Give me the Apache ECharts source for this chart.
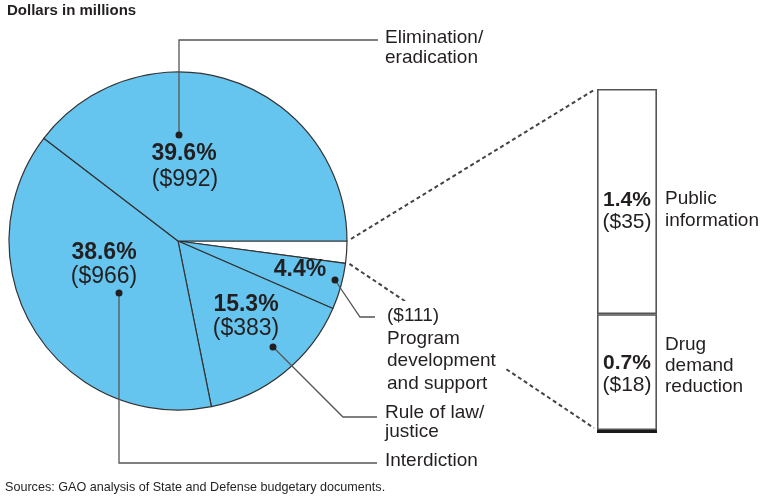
<!DOCTYPE html>
<html>
<head>
<meta charset="utf-8">
<script src="https://cdn.jsdelivr.net/npm/echarts@6/dist/echarts.min.js"></script>
<style>
  html, body { margin: 0; padding: 0; background: #fff; }
  #chart { width: 762px; height: 496px; }
</style>
</head>
<body>
<div id="chart"></div>
<script>
// Counternarcotics funding by activity, dollars in millions
const pieCategories = ['Elimination/eradication', 'Interdiction', 'Rule of law/justice', 'Program development and support'];
const pieValues = [992, 966, 383, 111];
const piePercents = ['39.6%', '38.6%', '15.3%', '4.4%'];

// Breakout of the small remaining slice
const barCategories = ['Public information', 'Drug demand reduction'];
const barValues = [35, 18];
const barPercents = ['1.4%', '0.7%'];

const FONT = '"Liberation Sans", Arial, Helvetica, sans-serif';
const INK = '#231f20';
const BLUE = '#66c5ef';

// pie geometry
const cx = 178, cy = 241, R = 169;
// breakout bar box
const barBox = { left: 597, top: 89, width: 60, height: 341 };

const otherTotal = barValues.reduce((a, b) => a + b, 0);
const total = otherTotal + pieValues.reduce((a, b) => a + b, 0);

// clockwise from 3 o'clock: breakout slice, program, rule of law, interdiction, elimination
const pieData = [
  { name: 'Public information and drug demand reduction', value: otherTotal, itemStyle: { color: '#ffffff' } },
  { name: pieCategories[3], value: pieValues[3], itemStyle: { color: BLUE } },
  { name: pieCategories[2], value: pieValues[2], itemStyle: { color: BLUE } },
  { name: pieCategories[1], value: pieValues[1], itemStyle: { color: BLUE } },
  { name: pieCategories[0], value: pieValues[0], itemStyle: { color: BLUE } }
];

function text(x, y, s, opt) {
  opt = opt || {};
  return {
    type: 'text', x: x, y: y, z: opt.z || 10, silent: true,
    style: Object.assign({
      text: s,
      fill: INK,
      font: (opt.bold ? 'bold ' : '') + (opt.size || 19) + 'px ' + FONT,
      textAlign: opt.align || 'left',
      textVerticalAlign: 'middle'
    }, opt.style || {})
  };
}
function leader(points) {
  return { type: 'polyline', z: 8, silent: true, shape: { points: points },
    style: { stroke: '#555', lineWidth: 1.3, fill: null } };
}
function dot(x, y) {
  return { type: 'circle', z: 9, silent: true, shape: { cx: x, cy: y, r: 3.5 }, style: { fill: INK } };
}
function dashed(p1, p2) {
  return { type: 'line', z: 1, silent: true, shape: { x1: p1[0], y1: p1[1], x2: p2[0], y2: p2[1] },
    style: { stroke: '#444', lineWidth: 2, lineDash: [4, 3] } };
}

// connectors from the breakout slice edges to the bar box corners
const sweep = otherTotal / total * 2 * Math.PI;
const edgeTop = [cx + R + 4, cy - 2];
const edgeBot = [cx + (R + 4) * Math.cos(sweep), cy + (R + 4) * Math.sin(sweep)];

const graphics = [
  dashed(edgeTop, [barBox.left - 3, barBox.top + 1]),
  dashed(edgeBot, [barBox.left - 3, barBox.top + barBox.height - 2]),

  text(7, 11, 'Dollars in millions', { bold: true, size: 15 }),
  text(5, 488, 'Sources: GAO analysis of State and Defense budgetary documents.', { size: 12.6 }),

  // values inside the pie
  text(184, 154, piePercents[0], { bold: true, size: 23, align: 'center' }),
  text(185, 180, '($' + pieValues[0] + ')', { size: 23, align: 'center' }),
  text(104, 253, piePercents[1], { bold: true, size: 23, align: 'center' }),
  text(104, 277, '($' + pieValues[1] + ')', { size: 23, align: 'center' }),
  text(246, 305, piePercents[2], { bold: true, size: 23, align: 'center' }),
  text(246, 329, '($' + pieValues[2] + ')', { size: 23, align: 'center' }),
  text(300, 270, piePercents[3], { bold: true, size: 23, align: 'center' }),

  // leader lines
  dot(179, 135), leader([[179, 135], [179, 40], [378, 40]]),
  dot(119, 293), leader([[119, 293], [119, 463], [377, 463]]),
  dot(273, 347), leader([[273, 347], [343, 417], [377, 417]]),
  dot(335, 280), leader([[335, 280], [360, 317], [375, 317]]),

  // category names
  text(385, 38, 'Elimination/'),
  text(385, 58, 'eradication'),
  text(385, 350, '($' + pieValues[3] + ')\nProgram\ndevelopment\nand support', {
    style: { lineHeight: 22.5, backgroundColor: '#ffffff', padding: [4, 10, 4, 2] }
  }),
  text(385, 413, 'Rule of law/'),
  text(385, 432, 'justice'),
  text(385, 461, 'Interdiction'),

  text(665, 199, 'Public'),
  text(665, 221, 'information'),
  text(665, 345, 'Drug'),
  text(665, 366, 'demand'),
  text(665, 387, 'reduction')
];

const chart = echarts.init(document.getElementById('chart'), null, { renderer: 'canvas' });
chart.setOption({
  animation: false,
  backgroundColor: '#ffffff',
  grid: { left: barBox.left, top: barBox.top, width: barBox.width, height: barBox.height },
  xAxis: {
    type: 'category', data: ['Other'],
    axisLine: { show: true, lineStyle: { color: '#1a1a1a', width: 5, cap: 'butt' } },
    axisTick: { show: false }, axisLabel: { show: false }, splitLine: { show: false }
  },
  yAxis: {
    type: 'value', min: 0, max: otherTotal, show: false, splitLine: { show: false }
  },
  series: [
    {
      type: 'pie', silent: true, z: 2,
      center: [cx, cy], radius: R,
      startAngle: 0, clockwise: true,
      label: { show: false }, labelLine: { show: false },
      itemStyle: { borderColor: '#333', borderWidth: 1.2 },
      emphasis: { disabled: true },
      data: pieData
    },
    {
      type: 'bar', name: barCategories[1], stack: 'other', barWidth: '100%', silent: true,
      data: [barValues[1]],
      itemStyle: { color: '#ffffff', borderColor: '#555', borderWidth: 1.6 },
      label: {
        show: true, position: 'inside', color: INK, fontFamily: FONT,
        formatter: () => '{b|' + barPercents[1] + '}\n{n|($' + barValues[1] + ')}',
        rich: { b: { fontWeight: 'bold', fontSize: 21, lineHeight: 22, fontFamily: FONT, color: INK },
                n: { fontSize: 21, lineHeight: 22, fontFamily: FONT, color: INK } },
        offset: [0, 2]
      }
    },
    {
      type: 'bar', name: barCategories[0], stack: 'other', barWidth: '100%', silent: true,
      data: [barValues[0]],
      itemStyle: { color: '#ffffff', borderColor: '#555', borderWidth: 1.6 },
      label: {
        show: true, position: 'inside', color: INK, fontFamily: FONT,
        formatter: () => '{b|' + barPercents[0] + '}\n{n|($' + barValues[0] + ')}',
        rich: { b: { fontWeight: 'bold', fontSize: 21, lineHeight: 22, fontFamily: FONT, color: INK },
                n: { fontSize: 21, lineHeight: 22, fontFamily: FONT, color: INK } },
        offset: [0, 10]
      }
    }
  ],
  graphic: graphics
});
</script>
</body>
</html>
